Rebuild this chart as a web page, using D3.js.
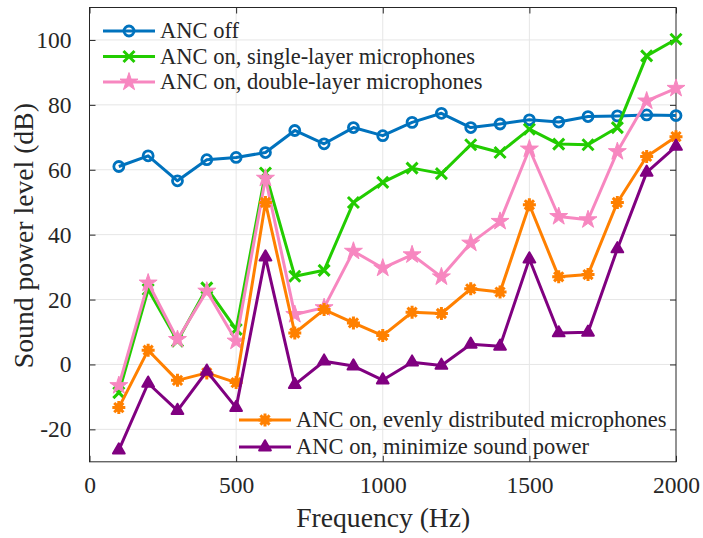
<!DOCTYPE html>
<html><head><meta charset="utf-8">
<script src="https://cdn.jsdelivr.net/npm/d3@7"></script>
</head><body>
<script>
const freqs = [100,200,300,400,500,600,700,800,900,1000,1100,1200,1300,1400,1500,1600,1700,1800,1900,2000];
const ancOff = [61.0,64.3,56.6,63.1,63.8,65.3,72.1,68.0,73.0,70.5,74.6,77.4,73.0,74.1,75.4,74.7,76.4,76.6,76.9,76.7];
const singleLayer = [-8.7,23.1,7.2,23.6,10.8,59.0,27.2,29.0,49.9,56.1,60.5,58.8,67.7,65.3,72.5,67.9,67.7,73.0,95.1,100.2];
const doubleLayer = [-6.5,25.1,7.7,22.6,7.2,57.4,15.4,17.5,34.9,29.7,33.8,27.0,37.4,44.1,66.4,45.6,44.6,65.6,81.2,85.1];
const evenly = [-13.3,4.4,-4.9,-2.6,-5.6,49.9,9.7,16.9,12.8,8.9,16.1,15.7,23.3,22.3,49.2,27.0,27.7,49.9,64.1,70.2];
const minimize = [-26.4,-5.8,-14.2,-2.1,-13.3,33.1,-6.2,1.0,-0.5,-4.8,0.7,-0.3,6.2,5.6,32.5,9.7,9.9,35.6,59.2,67.2];
const xTicks = [0,500,1000,1500,2000];
const yTicks = [-20,0,20,40,60,80,100];
const seriesNames = ["ANC off","ANC on, single-layer microphones","ANC on, double-layer microphones","ANC on, evenly distributed microphones","ANC on, minimize sound power"];
const seriesColors = ["#0072BD","#22CC00","#F787C0","#FF8000","#800080"];
const seriesMarkers = ["circle","x","star","asterisk","triangle"];
const seriesData = [ancOff,singleLayer,doubleLayer,evenly,minimize];

const FONT="Liberation Serif, Tinos, Times New Roman, Times, serif";
const W=703,H=538, L=89.5, R=676, T=7.5, B=461.8;
const svg=d3.select("body").append("svg").attr("width",W).attr("height",H)
  .style("position","absolute").style("left","0px").style("top","0px")
  .attr("font-family",FONT);
const xS=d3.scaleLinear().domain([0,2000]).range([L,R]);
const yS=d3.scaleLinear().domain([-30,110]).range([B,T]);
function setFont(sel,size){ sel.attr("font-family",FONT).attr("font-size",size).style("font-family",FONT).style("font-size",size+"px"); }

const g=svg.append("g");
g.selectAll(".vg").data(xTicks.slice(1,-1)).join("line").attr("x1",d=>xS(d)).attr("x2",d=>xS(d)).attr("y1",T).attr("y2",B).attr("stroke","#e6e6e6").attr("stroke-width",1);
g.selectAll(".hg").data(yTicks).join("line").attr("x1",L).attr("x2",R).attr("y1",d=>yS(d)).attr("y2",d=>yS(d)).attr("stroke","#e6e6e6").attr("stroke-width",1);

const ax=svg.append("g").attr("transform",`translate(0,${B})`).call(d3.axisBottom(xS).tickValues(xTicks).tickSize(-6).tickPadding(15).tickFormat(d3.format("d")));
const ay=svg.append("g").attr("transform",`translate(${L},0)`).call(d3.axisLeft(yS).tickValues(yTicks).tickSize(-6).tickPadding(18).tickFormat(d=>d<0?"-"+Math.abs(d):String(d)));
const axT=svg.append("g").attr("transform",`translate(0,${T})`).call(d3.axisTop(xS).tickValues(xTicks).tickSize(-6).tickFormat(""));
const ayR=svg.append("g").attr("transform",`translate(${R},0)`).call(d3.axisRight(yS).tickValues(yTicks).tickSize(-6).tickFormat(""));
[ax,ay,axT,ayR].forEach(a=>{setFont(a,23.5);a.select(".domain").remove();a.selectAll("line").attr("stroke","#262626");setFont(a.selectAll("text"),23.5);a.selectAll("text").attr("fill","#262626");});
svg.append("rect").attr("x",L).attr("y",T).attr("width",R-L).attr("height",B-T).attr("fill","none").attr("stroke","#262626").attr("stroke-width",1);

function fitText(sel,target){
  setFont(sel,100);
  const w=sel.node().getComputedTextLength();
  setFont(sel,+(100*target/w).toFixed(2));
}
const xl=svg.append("text").attr("x",(L+R)/2+0.5).attr("y",527).attr("text-anchor","middle").attr("fill","#262626").text("Frequency (Hz)");
fitText(xl,174);
const yl=svg.append("text").attr("transform",`translate(33,${(T+B)/2+1}) rotate(-90)`).attr("text-anchor","middle").attr("fill","#262626").text("Sound power level (dB)");
fitText(yl,265);

function drawMarker(sel,type,color){
  if(type==="circle") sel.append("circle").attr("r",5).attr("fill","none").attr("stroke",color).attr("stroke-width",2.8);
  else if(type==="x") sel.append("path").attr("d","M-5.5,-5.5L5.5,5.5M-5.5,5.5L5.5,-5.5").attr("stroke",color).attr("stroke-width",3).attr("fill","none");
  else if(type==="star") sel.append("path").attr("d",d3.symbol(d3.symbolStar,100)()).attr("fill",color).attr("stroke",color).attr("stroke-width",1).attr("stroke-linejoin","round");
  else if(type==="asterisk"){ sel.append("path").attr("d",d3.range(4).map(i=>{const a=i*Math.PI/4;return `M${-6.5*Math.cos(a)},${-6.5*Math.sin(a)}L${6.5*Math.cos(a)},${6.5*Math.sin(a)}`;}).join("")).attr("stroke",color).attr("stroke-width",3);
    sel.append("circle").attr("r",4.5).attr("fill",color);}
  else if(type==="triangle") sel.append("path").attr("d",d3.symbol(d3.symbolTriangle,60)()).attr("fill",color).attr("stroke",color).attr("stroke-width",2).attr("stroke-linejoin","round");
}

const lineGen=d3.line().x((d,i)=>xS(freqs[i])).y(d=>yS(d));
seriesData.forEach((s,k)=>{
  const gs=svg.append("g");
  gs.append("path").datum(s).attr("d",lineGen).attr("fill","none").attr("stroke",seriesColors[k]).attr("stroke-width",3).attr("stroke-linejoin","round");
  s.forEach((v,i)=>{const m=gs.append("g").attr("transform",`translate(${xS(freqs[i])},${yS(v)})`);drawMarker(m,seriesMarkers[k],seriesColors[k]);});
});

function legend(items,x0,y0,dy){
  items.forEach((k,j)=>{
    const yy=y0+j*dy;
    const lg=svg.append("g");
    lg.append("line").attr("x1",x0).attr("x2",x0+52).attr("y1",yy).attr("y2",yy).attr("stroke",seriesColors[k]).attr("stroke-width",3);
    const m=lg.append("g").attr("transform",`translate(${x0+26},${yy})`);drawMarker(m,seriesMarkers[k],seriesColors[k]);
    const t=lg.append("text").attr("x",x0+57).attr("y",yy).attr("dy","0.33em").attr("fill","#262626").text(seriesNames[k]);
    setFont(t,22.5);
  });
}
legend([0,1,2],103,31,25.5);
legend([3,4],239,420,27);
</script>
</body></html>
